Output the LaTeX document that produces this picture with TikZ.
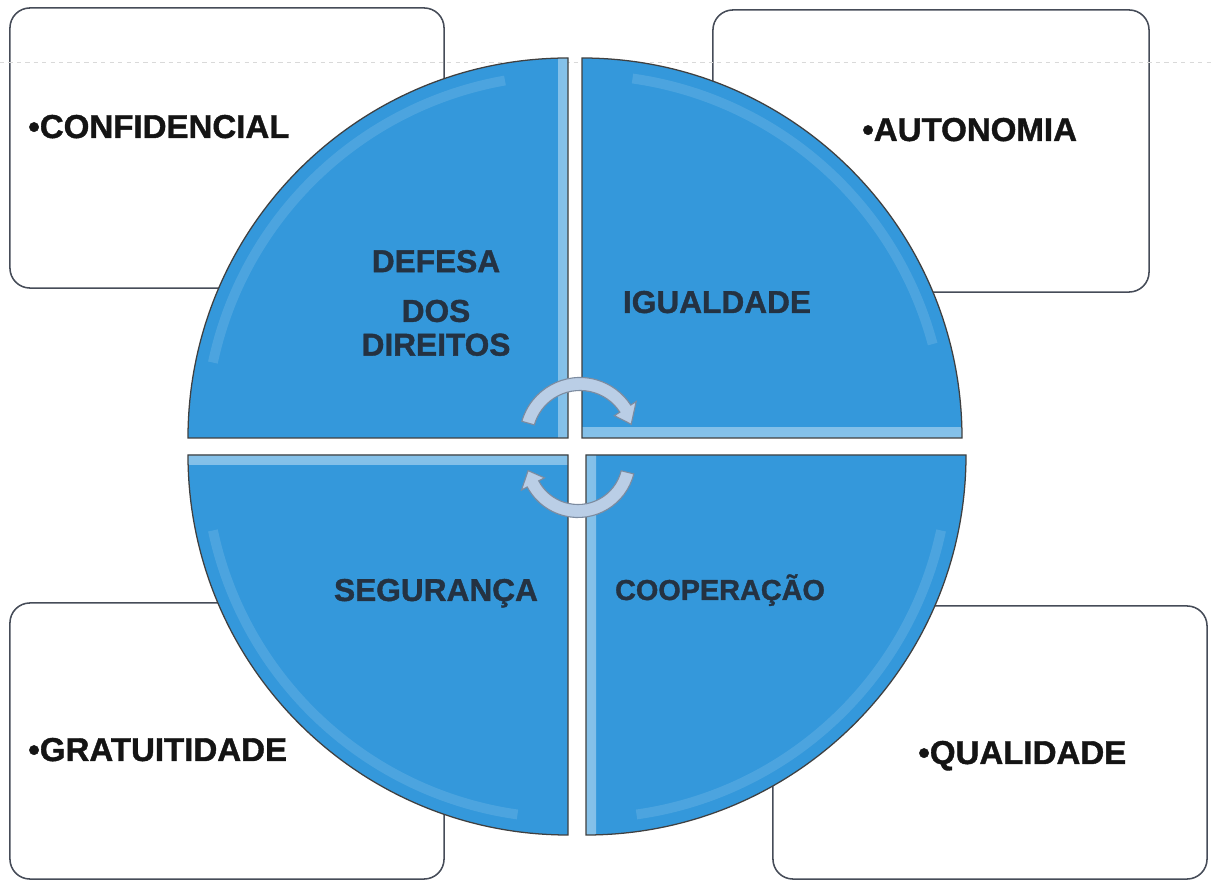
\documentclass[tikz,border=0pt]{standalone}
\usepackage{fontspec}
\setmainfont{Liberation Sans}
\newfontfamily\heavyfont[BoldFeatures={FakeBold=1.2}]{Liberation Sans}
\usepackage{tikz}
\usetikzlibrary{calc}

\definecolor{quadblue}{RGB}{52,152,219}
\definecolor{quadtext}{RGB}{36,50,66}
\definecolor{turnfill}{RGB}{186,206,230}
\definecolor{turnline}{RGB}{125,140,160}
\definecolor{cardline}{RGB}{70,76,88}

\begin{document}
\begin{tikzpicture}[x=0.025cm,y=0.025cm]
%\tikzstyle{card} = [draw, rounded corners]
\tikzstyle{card} = [draw=cardline, line width=1.1pt, rounded corners=0.5cm, fill=white, minimum width=10.85cm, inner sep=0pt]
\tikzstyle{item} = [anchor=base west, inner sep=0pt, font=\fontsize{23.5}{26}\heavyfont\bfseries, text=black!92]
\tikzstyle{quad} = [fill=quadblue, draw=black!75, line width=0.9pt]
\tikzstyle{quadlabel} = [inner sep=0pt, font=\fontsize{22.5}{24}\heavyfont\bfseries, text=quadtext]
\tikzstyle{shine} = [white, opacity=0.12, line width=7pt]
\tikzstyle{turn} = [fill=turnfill, draw=turnline, line width=0.8pt]

\fill[white] (0,0) rectangle (1211,881);
\useasboundingbox (0,0) rectangle (1211,881);

% boxes in the corners
\node[card, minimum height=7cm] (confbox) at (227,733) {};
\node[card, minimum width=10.9cm, minimum height=7.05cm] (autobox) at (931,730) {};
\node[card, minimum height=6.9cm] (gratbox) at (227,140) {};
\node[card, minimum height=6.825cm] (qualbox) at (990,138.5) {};

% faint rule of the scanned page
\draw[black!15, dashed, line width=0.5pt] (0,819) -- (1211,819);

\node[item] (conf) at (28,743) {•CONFIDENCIAL};
\node[item] (auto) at (862,740) {•AUTONOMIA};
\node[item] (grat) at (28,120) {•GRATUITIDADE};
\node[item] (qual) at (918,117) {•QUALIDADE};

% the circle, cut in four
\coordinate (tl) at (568,443);
\coordinate (tr) at (582,443);
\coordinate (bl) at (568,426);
\coordinate (br) at (586,426);

\draw[quad, path picture={
    \shade[left color=quadblue, right color=white!40!quadblue] (558,443) rectangle (568,823);
    \draw[shine] (tl) ++(100:363) arc[start angle=100, end angle=168, radius=363];
  }] (tl) -- ++(-380,0) arc[start angle=180, end angle=90, radius=380] -- cycle;
\draw[quad, path picture={
    \shade[top color=quadblue, bottom color=white!40!quadblue] (582,443) rectangle (962,453);
    \draw[shine] (tr) ++(15:363) arc[start angle=15, end angle=82, radius=363];
  }] (tr) -- ++(380,0) arc[start angle=0, end angle=90, radius=380] -- cycle;
\draw[quad, path picture={
    \shade[bottom color=quadblue, top color=white!40!quadblue] (188,416) rectangle (568,426);
    \draw[shine] (bl) ++(192:363) arc[start angle=192, end angle=262, radius=363];
  }] (bl) -- ++(-380,0) arc[start angle=180, end angle=270, radius=380] -- cycle;
\draw[quad, path picture={
    \shade[left color=white!40!quadblue, right color=quadblue] (586,46) rectangle (596,426);
    \draw[shine] (br) ++(278:363) arc[start angle=278, end angle=348, radius=363];
  }] (br) -- ++(380,0) arc[start angle=0, end angle=-90, radius=380] -- cycle;

\node[quadlabel, align=center] (defesa) at (436,578) {DEFESA\\[0.4cm]DOS\\DIREITOS};
\node[quadlabel, anchor=base] (igual) at (717,568) {IGUALDADE};
\node[quadlabel, anchor=base] (segur) at (436,280) {SEGURANÇA};
\node[quadlabel, anchor=base, font=\fontsize{20.5}{24}\heavyfont\bfseries] (coop) at (720,281) {COOPERAÇÃO};

% turning arrows in the middle
\coordinate (upturn) at (580,443);
\coordinate (downturn) at (578,421);
\draw[turn] ($(upturn)+(164:60.5)$) arc[start angle=164, end angle=33, radius=60.5]
  -- ($(upturn)+(33:67)$) -- ($(upturn)+(15:53)$) -- ($(upturn)+(33:41)$)
  -- ($(upturn)+(33:47.5)$) arc[start angle=33, end angle=164, radius=47.5] -- cycle;
\draw[turn] ($(downturn)+(-14:57.5)$) arc[start angle=-14, end angle=-152, radius=57.5]
  -- ($(downturn)+(-152:64)$) -- ($(downturn)+(-168:51)$) -- ($(downturn)+(-152:38)$)
  -- ($(downturn)+(-152:44.5)$) arc[start angle=-152, end angle=-14, radius=44.5] -- cycle;
\end{tikzpicture}
\end{document}
